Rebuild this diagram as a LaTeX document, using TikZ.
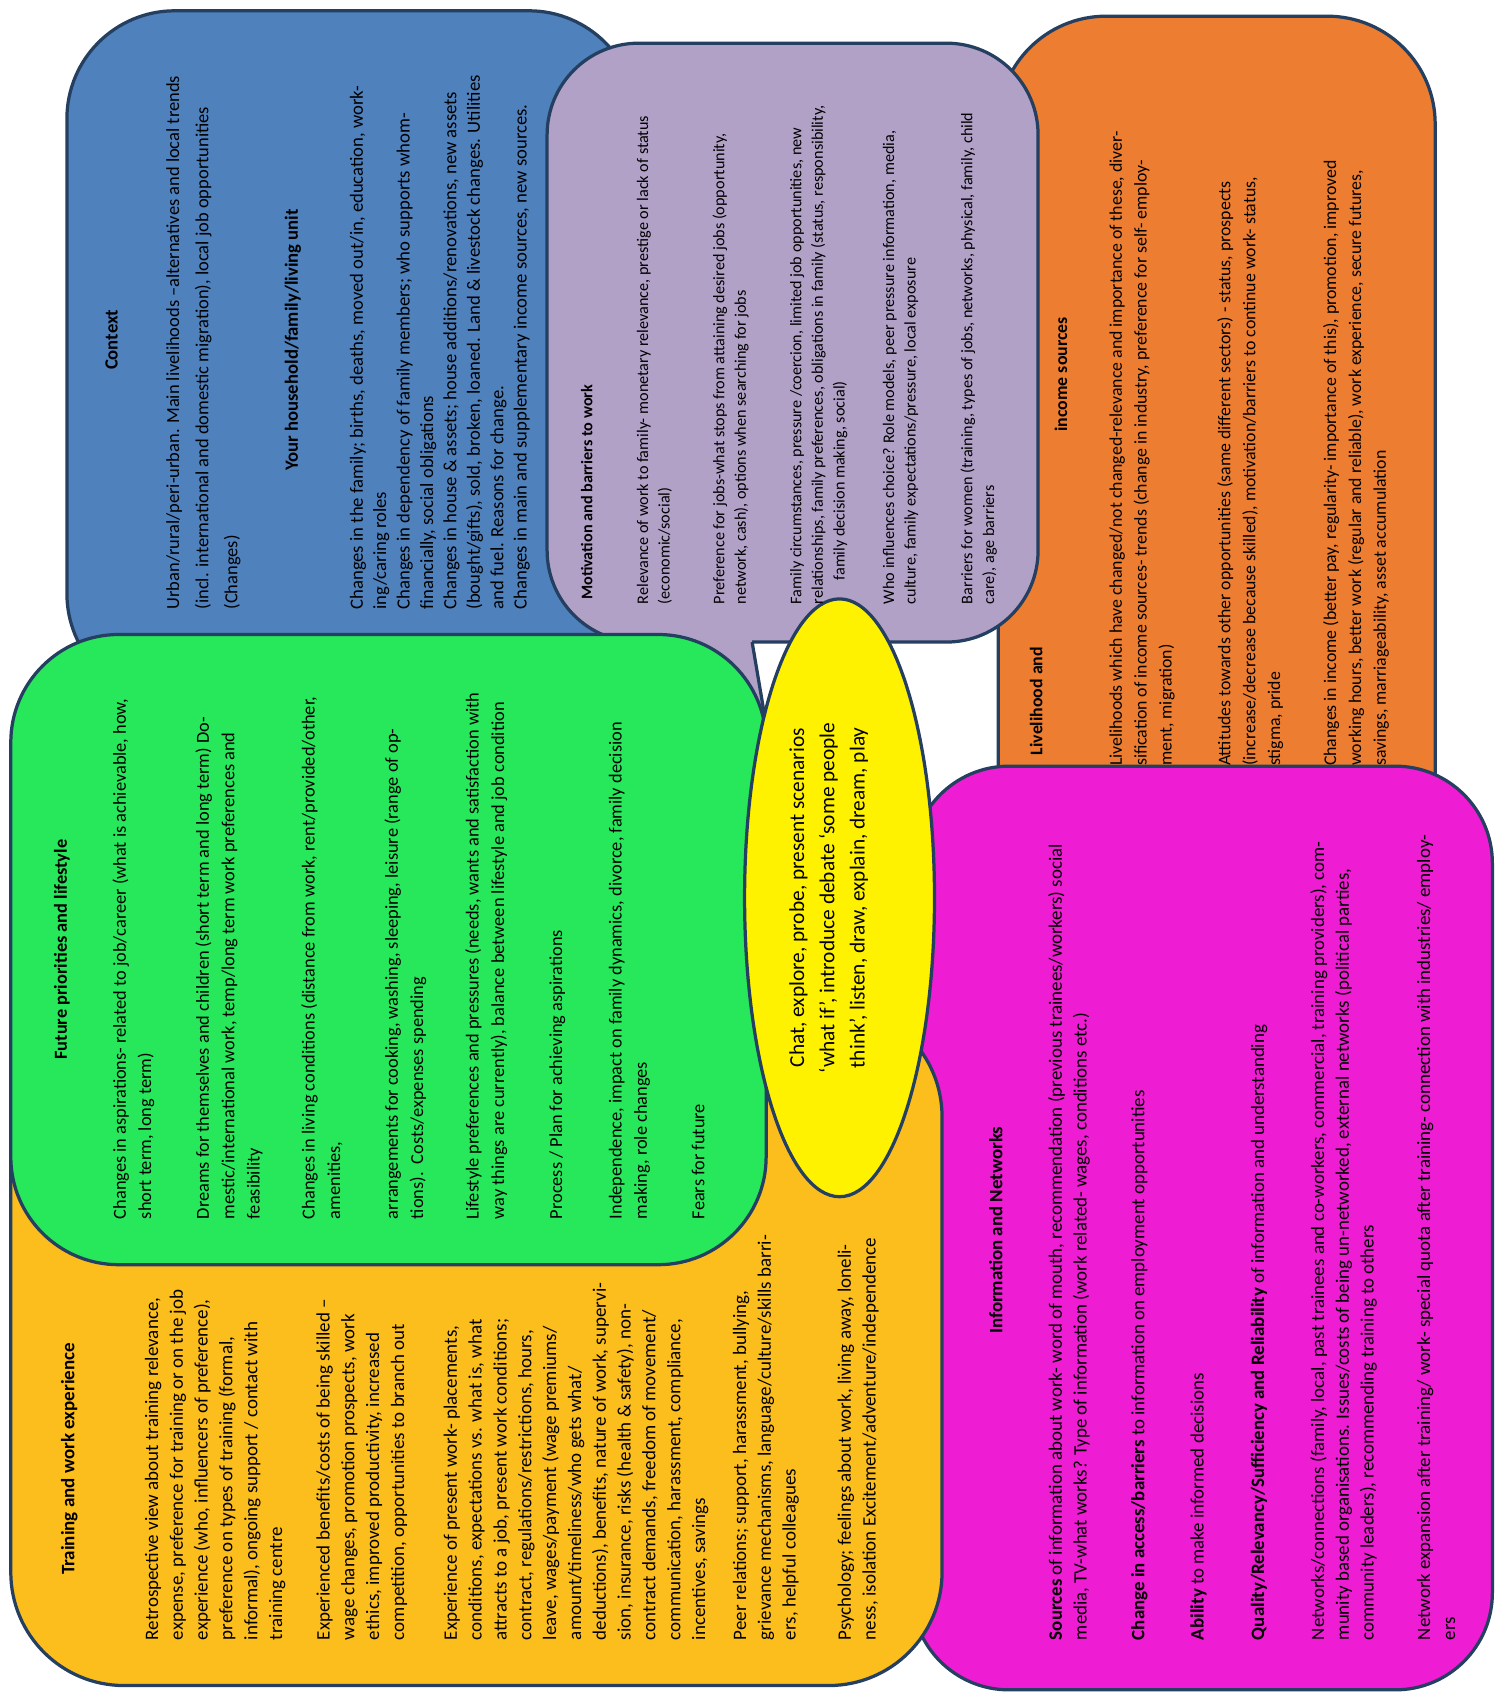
\documentclass[tikz,border=0pt]{standalone}
\usepackage{fontspec}
\setmainfont{Carlito}
\usetikzlibrary{shapes.geometric}
\definecolor{cblue}{RGB}{79,129,189}
\definecolor{cpurple}{RGB}{178,161,199}
\definecolor{corange}{RGB}{237,125,49}
\definecolor{cgreen}{RGB}{38,232,90}
\definecolor{cgold}{RGB}{252,190,28}
\definecolor{cmag}{RGB}{238,28,210}
\definecolor{cline}{RGB}{36,63,96}
\begin{document}
\begin{tikzpicture}[x=1pt,y=-1pt,
  box/.style={draw=cline, line width=3pt, rounded corners=100pt},
  para/.style={rotate=90, anchor=north west, inner sep=0pt, align=left},
  head/.style={rotate=90, anchor=base, inner sep=0pt},
  headw/.style={rotate=90, anchor=base west, inner sep=0pt},
  fblue/.style={font=\fontsize{17.3pt}{21.7pt}\selectfont},
  fblueB/.style={font=\fontsize{17.3pt}{21.7pt}\selectfont\bfseries},
  fblueA/.style={font=\fontsize{17.1pt}{27pt}\selectfont},
  fpur/.style={font=\fontsize{15pt}{20pt}\selectfont},
  fpurB/.style={font=\fontsize{15pt}{20pt}\selectfont\bfseries},
  fora/.style={font=\fontsize{16.5pt}{23pt}\selectfont},
  foraB/.style={font=\fontsize{16.5pt}{23pt}\selectfont\bfseries},
  fgre/.style={font=\fontsize{17pt}{23.5pt}\selectfont},
  fgreB/.style={font=\fontsize{17pt}{23.5pt}\selectfont\bfseries},
  fgold/.style={font=\fontsize{17.6pt}{23pt}\selectfont},
  fgoldB/.style={font=\fontsize{17.6pt}{23pt}\selectfont\bfseries},
  fmag/.style={font=\fontsize{17.5pt}{23pt}\selectfont},
  fmagB/.style={font=\fontsize{17.5pt}{23pt}\selectfont\bfseries},
]
\useasboundingbox (0,0) rectangle (1385,1568);
\fill[white] (0,0) rectangle (1385,1568);

% shapes (back to front)
\draw[box, fill=cblue] (62,10) rectangle (590,650);
\draw[box, fill=corange] (925,15) rectangle (1330,900);
\draw[box, fill=cpurple, rounded corners=85pt] (507,40) rectangle (962,595);
\fill[cpurple] (637.9,591) -- (696.3,591) -- (725,760) -- cycle;
\draw[cline, line width=3pt] (640,595) -- (725,760) -- (697,595);
\draw[box, fill=cmag, rounded corners=90pt] (845,710) rectangle (1383,1566);
\draw[box, fill=cgold, rounded corners=105pt] (10,930) rectangle (873,1562);
\draw[box, fill=cgreen] (10,588) rectangle (710,1172);
\node (hub) [draw=cline, line width=3pt, fill=yellow, ellipse, minimum width=176pt, minimum height=554pt, inner sep=0pt] at (778,832) {};

% blue box texts
\node (ctxh) [head, fblueB] at (109,315) {Context};
\node (ctx1) [para, fblueA] at (154,565) {Urban/rural/peri-urban. Main livelihoods –alternatives and local trends\\(incl. international and domestic migration), local job opportunities\\(Changes)};
\node (hhh) [head, fblueB] at (276,315) {Your household/family/living unit};
\node (hh1) [para, fblue] at (324,565) {Changes in the family; births, deaths, moved out/in, education, work-\\ing/caring roles\\Changes in dependency of family members; who supports whom-\\financially, social obligations\\Changes in house \& assets; house additions/renovations, new assets\\(bought/gifts), sold, broken, loaned. Land \& livestock changes. Utilities\\and fuel. Reasons for change.\\Changes in main and supplementary income sources, new sources.};

% purple box texts
\node (moth) [headw, fpurB] at (549,556) {Motivation and barriers to work};
\node (mo1) [para, fpur] at (590,560) {Relevance of work to family- monetary relevance, prestige or lack of status\\(economic/social)};
\node (mo2) [para, fpur] at (660,560) {Preference for jobs-what stops from attaining desired jobs (opportunity,\\network, cash), options when searching for jobs};
\node (mo3) [para, fpur] at (732,560) {Family circumstances, pressure /coercion, limited job opportunities, new\\relationships, family preferences, obligations in family (status, responsibility,\\\hspace*{22pt}family decision making, social)};
\node (mo4) [para, fpur] at (818,560) {Who influences choice? Role models, peer pressure information, media,\\culture, family expectations/pressure, local exposure};
\node (mo5) [para, fpur] at (890,560) {Barriers for women (training, types of jobs, networks, physical, family, child\\care), age barriers};

% orange box texts
\node (livh1) [headw, foraB] at (966,700) {Livelihood and};
\node (livh2) [headw, foraB] at (989,400) {income sources};
\node (liv1) [para, fora] at (1028,710) {Livelihoods which have changed/not changed-relevance and importance of these, diver-\\sification of income sources- trends (change in industry, preference for self- employ-\\ment, migration)};
\node (liv2) [para, fora] at (1128,710) {Attitudes towards other opportunities (same different sectors) - status, prospects\\(increase/decrease because skilled), motivation/barriers to continue work- status,\\stigma, pride};
\node (liv3) [para, fora] at (1226,710) {Changes in income (better pay, regularity- importance of this), promotion, improved\\working hours, better work (regular and reliable), work experience, secure futures,\\savings, marriageability, asset accumulation};

% green box texts
\node (futh) [head, fgreB] at (62,880) {Future priorities and lifestyle};
\node (fu1) [para, fgre] at (104,1130) {Changes in aspirations- related to job/career (what is achievable, how,\\short term, long term)};
\node (fu2) [para, fgre] at (181,1130) {Dreams for themselves and children (short term and long term) Do-\\mestic/international work, temp/long term work preferences and\\feasibility};
\node (fu3) [para, fgre] at (279,1130) {Changes in living conditions (distance from work, rent/provided/other,\\amenities,};
\node (fu4) [para, fgre] at (356,1130) {arrangements for cooking, washing, sleeping, leisure (range of op-\\tions).\ \ Costs/expenses spending};
\node (fu5) [para, fgre] at (431,1130) {Lifestyle preferences and pressures (needs, wants and satisfaction with\\way things are currently), balance between lifestyle and job condition};
\node (fu6) [para, fgre] at (509,1130) {Process / Plan for achieving aspirations};
\node (fu7) [para, fgre] at (564,1130) {Independence, impact on family dynamics, divorce, family decision\\making, role changes};
\node (fu8) [para, fgre] at (641,1130) {Fears for future};

% training box texts
\node (trh) [head, fgoldB] at (69,1352) {Training and work experience};
\node (tr1) [para, fgold] at (134,1520) {Retrospective view about training relevance,\\expense, preference for training or on the job\\experience (who, influencers of preference),\\preference on types of training (formal,\\informal), ongoing support / contact with\\training centre};
\node (tr2) [para, fgold] at (293,1520) {Experienced benefits/costs of being skilled –\\wage changes, promotion prospects, work\\ethics, improved productivity, increased\\competition, opportunities to branch out};
\node (tr3) [para, fgold] at (411,1520) {Experience of present work- placements,\\conditions, expectations vs. what is, what\\attracts to a job, present work conditions;\\contract, regulations/restrictions, hours,\\leave, wages/payment (wage premiums/\\amount/timeliness/who gets what/\\deductions), benefits, nature of work, supervi-\\sion, insurance, risks (health \& safety), non-\\contract demands, freedom of movement/\\communication, harassment, compliance,\\incentives, savings};
\node (tr4) [para, fgold] at (679,1520) {Peer relations; support, harassment, bullying,\\grievance mechanisms, language/culture/skills barri-\\ers, helpful colleagues};
\node (tr5) [para, fgold] at (776,1520) {Psychology; feelings about work, living away, loneli-\\ness, isolation Excitement/adventure/independence};

% magenta box texts
\node (inh) [head, fmagB] at (929,1140) {Information and Networks};
\node (in1) [para, fmag] at (971,1520) {\textbf{Sources} of information about work- word of mouth, recommendation (previous trainees/workers) social\\media, TV-what works? Type of information (work related- wages, conditions etc.)};
\node (in2) [para, fmag] at (1048,1520) {\textbf{Change in access/barriers} to information on employment opportunities};
\node (in3) [para, fmag] at (1103,1520) {\textbf{Ability} to make informed decisions};
\node (in4) [para, fmag] at (1159,1520) {\textbf{Quality/Relevancy/Sufficiency and Reliability} of information and understanding};
\node (in5) [para, fmag] at (1214,1520) {Networks/connections (family, local, past trainees and co-workers, commercial, training providers), com-\\munity based organisations. Issues/costs of being un-networked, external networks (political parties,\\community leaders), recommending training to others};
\node (in6) [para, fmag] at (1313,1520) {Network expansion after training/ work- special quota after training- connection with industries/ employ-\\ers};

% hub text
\node (hubt) [rotate=90, anchor=center, inner sep=0pt, align=center, font=\fontsize{19.8pt}{28pt}\selectfont] at (768,832) {Chat, explore, probe, present scenarios\\‘what if’, introduce debate ‘some people\\think’, listen, draw, explain, dream, play};
\end{tikzpicture}
\end{document}
